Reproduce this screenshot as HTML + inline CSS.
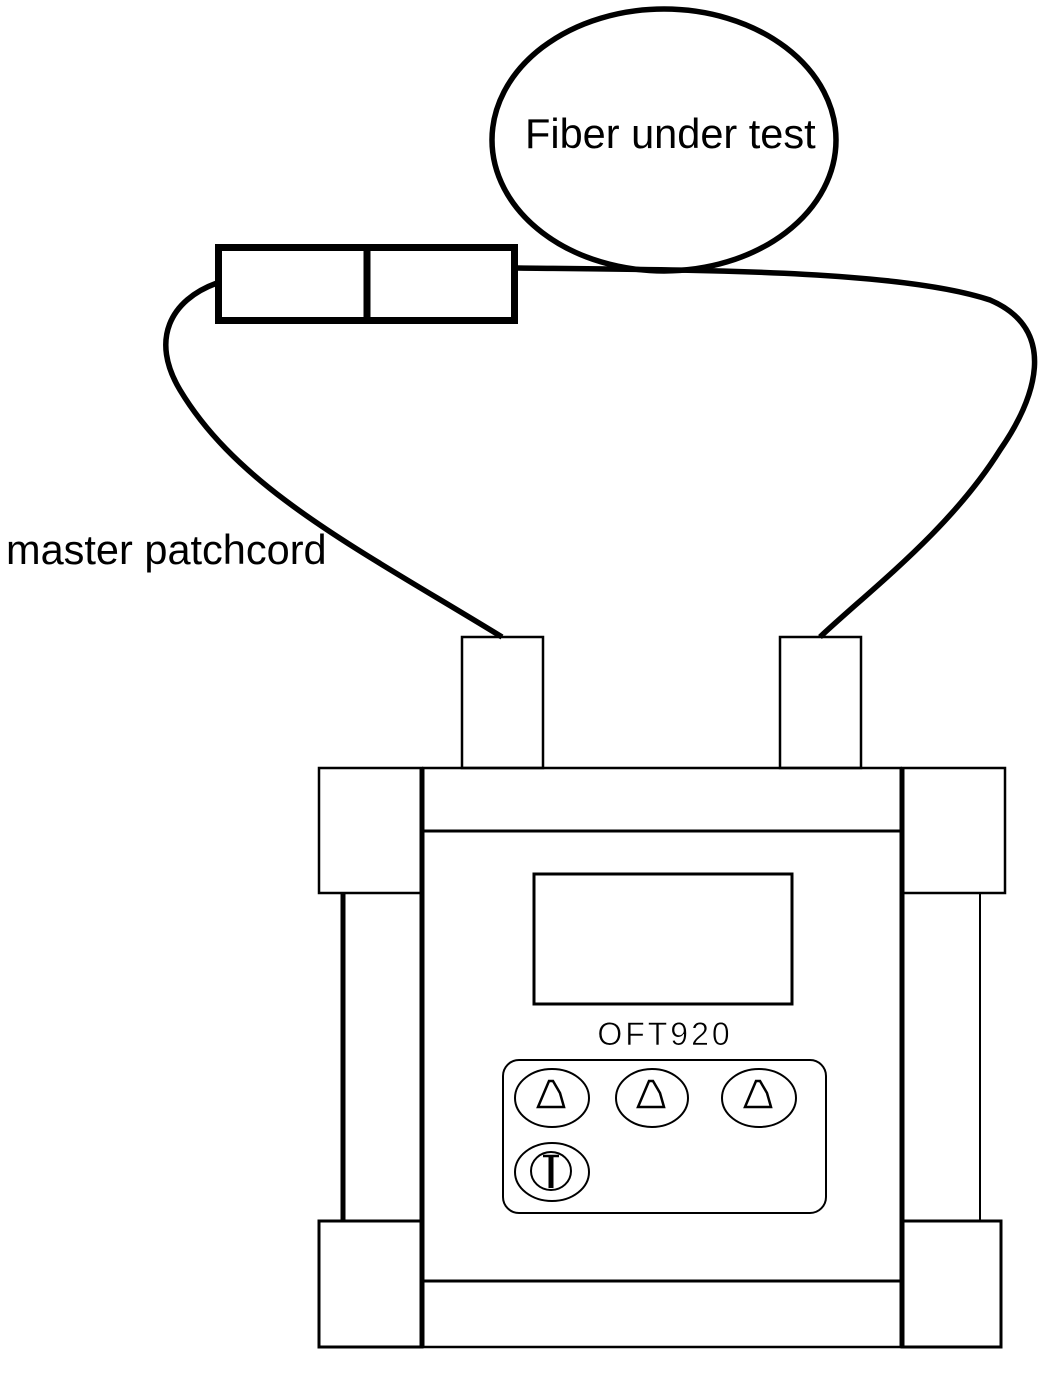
<!DOCTYPE html>
<html><head><style>
html,body{margin:0;padding:0;background:#fff;}
svg{display:block;}
</style></head><body>
<svg width="1044" height="1386" viewBox="0 0 1044 1386" xmlns="http://www.w3.org/2000/svg">
<rect width="1044" height="1386" fill="#fff"/>
<g fill="none" stroke="#000" stroke-linecap="butt">
<ellipse cx="664" cy="140" rx="172" ry="131" stroke-width="5.5"/>
<path d="M517 268 C700 270 900 270 990 300 C1060 330 1035 400 1000 450 C950 530 870 590 820 637" stroke-width="5.5"/>
<path d="M217 283 C170 300 150 340 180 390 C240 490 360 550 502 637" stroke-width="5.5"/>
<rect x="218.5" y="247.5" width="296" height="73" stroke-width="7"/>
<line x1="367" y1="247" x2="367" y2="321" stroke-width="7"/>
<rect x="462" y="637" width="81" height="131" stroke-width="2.5"/>
<rect x="780" y="637" width="81" height="131" stroke-width="2.5"/>
<rect x="319" y="768" width="103" height="125" stroke-width="2.5"/>
<rect x="319" y="1221" width="103" height="126" stroke-width="3"/>
<rect x="902" y="768" width="103" height="125" stroke-width="2.5"/>
<rect x="902" y="1221" width="99" height="126" stroke-width="3"/>
<line x1="343" y1="893" x2="343" y2="1221" stroke-width="5"/>
<line x1="980" y1="893" x2="980" y2="1221" stroke-width="2"/>
<line x1="422" y1="768" x2="422" y2="1347" stroke-width="5"/>
<line x1="902" y1="768" x2="902" y2="1347" stroke-width="5"/>
<line x1="422" y1="768" x2="902" y2="768" stroke-width="2.5"/>
<line x1="422" y1="831" x2="900" y2="831" stroke-width="3"/>
<line x1="422" y1="1281" x2="902" y2="1281" stroke-width="3"/>
<line x1="422" y1="1347" x2="902" y2="1347" stroke-width="2.5"/>
<rect x="534" y="874" width="258" height="130" stroke-width="3"/>
<rect x="503" y="1060" width="323" height="153" rx="16" stroke-width="2"/>
<ellipse cx="552" cy="1098" rx="37" ry="29" stroke-width="2"/>
<ellipse cx="652" cy="1098" rx="36" ry="29" stroke-width="2"/>
<ellipse cx="759" cy="1098" rx="37" ry="29" stroke-width="2"/>
<ellipse cx="552" cy="1172" rx="37" ry="29" stroke-width="2"/>
<ellipse cx="551" cy="1171" rx="20" ry="19" stroke-width="2"/>
<path d="M538 1107 L564 1107 L560 1093 L553 1081 L549 1081 Z" stroke-width="2.5"/>
<path d="M638 1107 L664 1107 L660 1093 L653 1081 L649 1081 Z" stroke-width="2.5"/>
<path d="M745 1107 L771 1107 L767 1093 L760 1081 L756 1081 Z" stroke-width="2.5"/>
<line x1="551" y1="1155" x2="551" y2="1188" stroke-width="5"/>
<line x1="543" y1="1156" x2="559" y2="1156" stroke-width="2.5"/>
</g>
<g font-family="Liberation Sans, sans-serif" fill="#000">
<text x="525" y="148" font-size="41.5">Fiber under test</text>
<text x="6" y="564" font-size="41.5">master patchcord</text>
<text x="665" y="1045" font-size="32" text-anchor="middle" letter-spacing="3" stroke="#fff" stroke-width="0.6">OFT920</text>
</g>
</svg>
</body></html>
